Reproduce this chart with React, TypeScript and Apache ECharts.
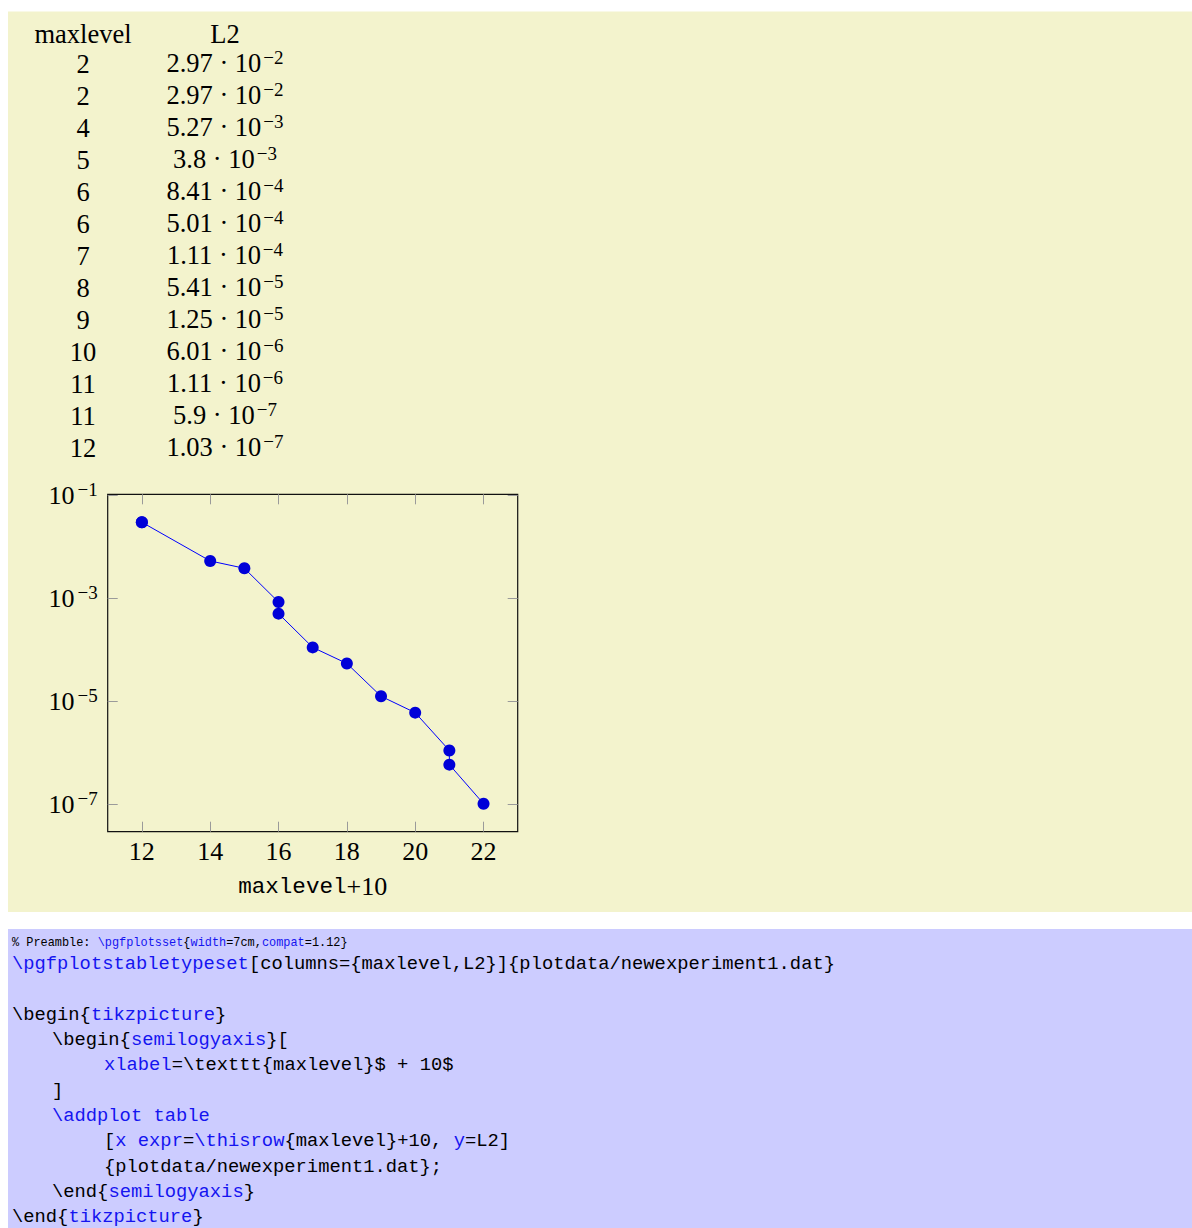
import React, { useEffect, useRef } from "react";
import * as echarts from "echarts";

// ---------------- data ----------------
const maxlevel = [2, 2, 4, 5, 6, 6, 7, 8, 9, 10, 11, 11, 12];
const L2 = [
  2.97e-2, 2.97e-2, 5.27e-3, 3.8e-3, 8.41e-4, 5.01e-4, 1.11e-4, 5.41e-5,
  1.25e-5, 6.01e-6, 1.11e-6, 5.9e-7, 1.03e-7,
];
const tableHeader = ["maxlevel", "L2"];
const xOffset = 10;
const xTicks = [12, 14, 16, 18, 20, 22];
const yTickExponents = [-7, -5, -3, -1];
const xRange = [11, 23];
const yLogRange = [-7.53, -0.985];
const xAxisNameParts = ["maxlevel", "+10"];

const preambleSegs: [string, boolean][] = [
  ["% Preamble: ", false],
  ["\\pgfplotsset", true],
  ["{", false],
  ["width", true],
  ["=7cm,", false],
  ["compat", true],
  ["=1.12}", false],
];

// level: indentation level of each listing line
const codeLines: { level: number; segs: [string, boolean][] }[] = [
  {
    level: 0,
    segs: [
      ["\\pgfplotstabletypeset", true],
      ["[columns={maxlevel,L2}]{plotdata/newexperiment1.dat}", false],
    ],
  },
  { level: 0, segs: [] },
  { level: 0, segs: [["\\begin{", false], ["tikzpicture", true], ["}", false]] },
  { level: 1, segs: [["\\begin{", false], ["semilogyaxis", true], ["}[", false]] },
  { level: 2, segs: [["xlabel", true], ["=\\texttt{maxlevel}$ + 10$", false]] },
  { level: 1, segs: [["]", false]] },
  { level: 1, segs: [["\\addplot table", true]] },
  {
    level: 2,
    segs: [
      ["[", false],
      ["x expr", true],
      ["=", false],
      ["\\thisrow", true],
      ["{maxlevel}+10, ", false],
      ["y", true],
      ["=L2]", false],
    ],
  },
  { level: 2, segs: [["{plotdata/newexperiment1.dat};", false]] },
  { level: 1, segs: [["\\end{", false], ["semilogyaxis", true], ["}", false]] },
  { level: 0, segs: [["\\end{", false], ["tikzpicture", true], ["}", false]] },
];

// ---------------- styles ----------------
const SERIF = '"Liberation Serif", "DejaVu Serif", serif';
const MONO = '"Liberation Mono", "DejaVu Sans Mono", monospace';
const YELLOW = "#F3F3CD";
const BLUEBG = "#CCCCFF";
const KEY = "#1414F0";
const INDENT_PX = [0, 40, 92];

function sci(v: number) {
  const e = Math.floor(Math.log10(v));
  const m = parseFloat((v / Math.pow(10, e)).toPrecision(3));
  return { m: String(m), e };
}

const richNum = {
  n: { fontFamily: SERIF, fontSize: 26.5, lineHeight: 30, color: "#000" },
  s: {
    fontFamily: SERIF,
    fontSize: 19,
    lineHeight: 16,
    verticalAlign: "top",
    padding: [0, 0, 0, 2],
    color: "#000",
  },
};

export default function App() {
  const ref = useRef<HTMLDivElement>(null);

  useEffect(() => {
    if (!ref.current) return;
    const chart = echarts.init(ref.current, null, { renderer: "svg" });

    const graphics: any[] = [];
    // backgrounds
    graphics.push({
      type: "rect",
      z: -100,
      silent: true,
      shape: { x: 8, y: 11.5, width: 1184, height: 900.5 },
      style: { fill: YELLOW },
    });
    graphics.push({
      type: "rect",
      z: -100,
      silent: true,
      shape: { x: 8, y: 929, width: 1184, height: 299 },
      style: { fill: BLUEBG },
    });

    // table
    const colX = [83, 225];
    const cellFont = `26.5px ${SERIF}`;
    tableHeader.forEach((h, c) => {
      graphics.push({
        type: "text",
        x: colX[c],
        y: 34,
        style: { text: h, font: cellFont, fill: "#000", align: "center", verticalAlign: "middle" },
      });
    });
    maxlevel.forEach((m, i) => {
      const y = 64 + i * 32;
      graphics.push({
        type: "text",
        x: colX[0],
        y,
        style: { text: String(m), font: cellFont, fill: "#000", align: "center", verticalAlign: "middle" },
      });
      const { m: mant, e } = sci(L2[i]);
      graphics.push({
        type: "text",
        x: colX[1],
        y: y - 1,
        style: {
          text: `{n|${mant} · 10}{s|\u2212${Math.abs(e)}}`,
          rich: richNum,
          align: "center",
          verticalAlign: "middle",
        },
      });
    });

    // code listing
    const CW = 11.28;
    const codeX = 12;
    let px = codeX;
    preambleSegs.forEach(([t, k]) => {
      graphics.push({
        type: "text",
        x: px,
        y: 942.7,
        style: { text: t, font: `11.9px ${MONO}`, fill: k ? KEY : "#000", align: "left", verticalAlign: "middle" },
      });
      px += t.length * 7.14;
    });
    codeLines.forEach((line, li) => {
      const y = 964 + li * 25.33;
      let cx = codeX + INDENT_PX[line.level];
      line.segs.forEach(([t, k]) => {
        graphics.push({
          type: "text",
          x: cx,
          y,
          style: { text: t, font: `18.8px ${MONO}`, fill: k ? KEY : "#000", align: "left", verticalAlign: "middle" },
        });
        cx += t.length * CW;
      });
    });

    const tickStyle = { color: "#9a9a9a", width: 1 };

    const option: any = {
      animation: false,
      backgroundColor: "#ffffff",
      grid: {
        left: 107.7,
        top: 494.3,
        width: 410,
        height: 337.4,
        show: true,
        borderColor: "#111",
        borderWidth: 1.2,
        backgroundColor: "transparent",
        containLabel: false,
      },
      xAxis: [
        {
          type: "value",
          position: "bottom",
          min: xRange[0],
          max: xRange[1],
          axisLine: { show: false },
          splitLine: { show: false },
          axisTick: { show: true, inside: true, length: 10, lineStyle: tickStyle, customValues: xTicks },
          axisLabel: {
            customValues: xTicks,
            fontFamily: SERIF,
            fontSize: 26,
            color: "#000",
            margin: 7,
          },
          name: `{tt|${xAxisNameParts[0]}}{rm|${xAxisNameParts[1]}}`,
          nameLocation: "middle",
          nameGap: 42,
          nameTextStyle: {
            rich: {
              tt: { fontFamily: MONO, fontSize: 22.6, color: "#000" },
              rm: { fontFamily: SERIF, fontSize: 26, color: "#000" },
            },
          },
        },
        {
          type: "value",
          position: "top",
          min: xRange[0],
          max: xRange[1],
          axisLine: { show: false },
          splitLine: { show: false },
          axisTick: { show: true, inside: true, length: 10, lineStyle: tickStyle, customValues: xTicks },
          axisLabel: { show: false },
        },
      ],
      yAxis: [
        {
          type: "log",
          logBase: 10,
          position: "left",
          min: Math.pow(10, yLogRange[0]),
          max: Math.pow(10, yLogRange[1]),
          show: false,
          splitLine: { show: false },
        },
        {
          type: "value",
          position: "left",
          min: yLogRange[0],
          max: yLogRange[1],
          axisLine: { show: false },
          splitLine: { show: false },
          axisTick: { show: true, inside: true, length: 10, lineStyle: tickStyle, customValues: yTickExponents },
          axisLabel: {
            customValues: yTickExponents,
            margin: 10,
            formatter: (v: number) => `{b|10}{s|\u2212${Math.abs(Math.round(v))}}`,
            rich: {
              b: { fontFamily: SERIF, fontSize: 26, lineHeight: 30, color: "#000" },
              s: {
                fontFamily: SERIF,
                fontSize: 19,
                lineHeight: 16,
                verticalAlign: "top",
                padding: [0, 0, 0, 3],
                color: "#000",
              },
            },
          },
        },
        {
          type: "value",
          position: "right",
          min: yLogRange[0],
          max: yLogRange[1],
          axisLine: { show: false },
          splitLine: { show: false },
          axisTick: { show: true, inside: true, length: 10, lineStyle: tickStyle, customValues: yTickExponents },
          axisLabel: { show: false },
        },
      ],
      series: [
        {
          type: "line",
          xAxisIndex: 0,
          yAxisIndex: 0,
          data: maxlevel.map((m, i) => [m + xOffset, L2[i]]),
          symbol: "circle",
          symbolSize: 12,
          itemStyle: { color: "#0000D8", borderColor: "#0000D8", borderWidth: 0 },
          lineStyle: { color: "#0000FF", width: 1 },
          z: 5,
        },
      ],
      graphic: graphics,
    };

    chart.setOption(option);
    return () => chart.dispose();
  }, []);

  return (
    <div
      ref={ref}
      style={{ position: "absolute", left: 0, top: 0, width: 1192, height: 1228 }}
    />
  );
}
